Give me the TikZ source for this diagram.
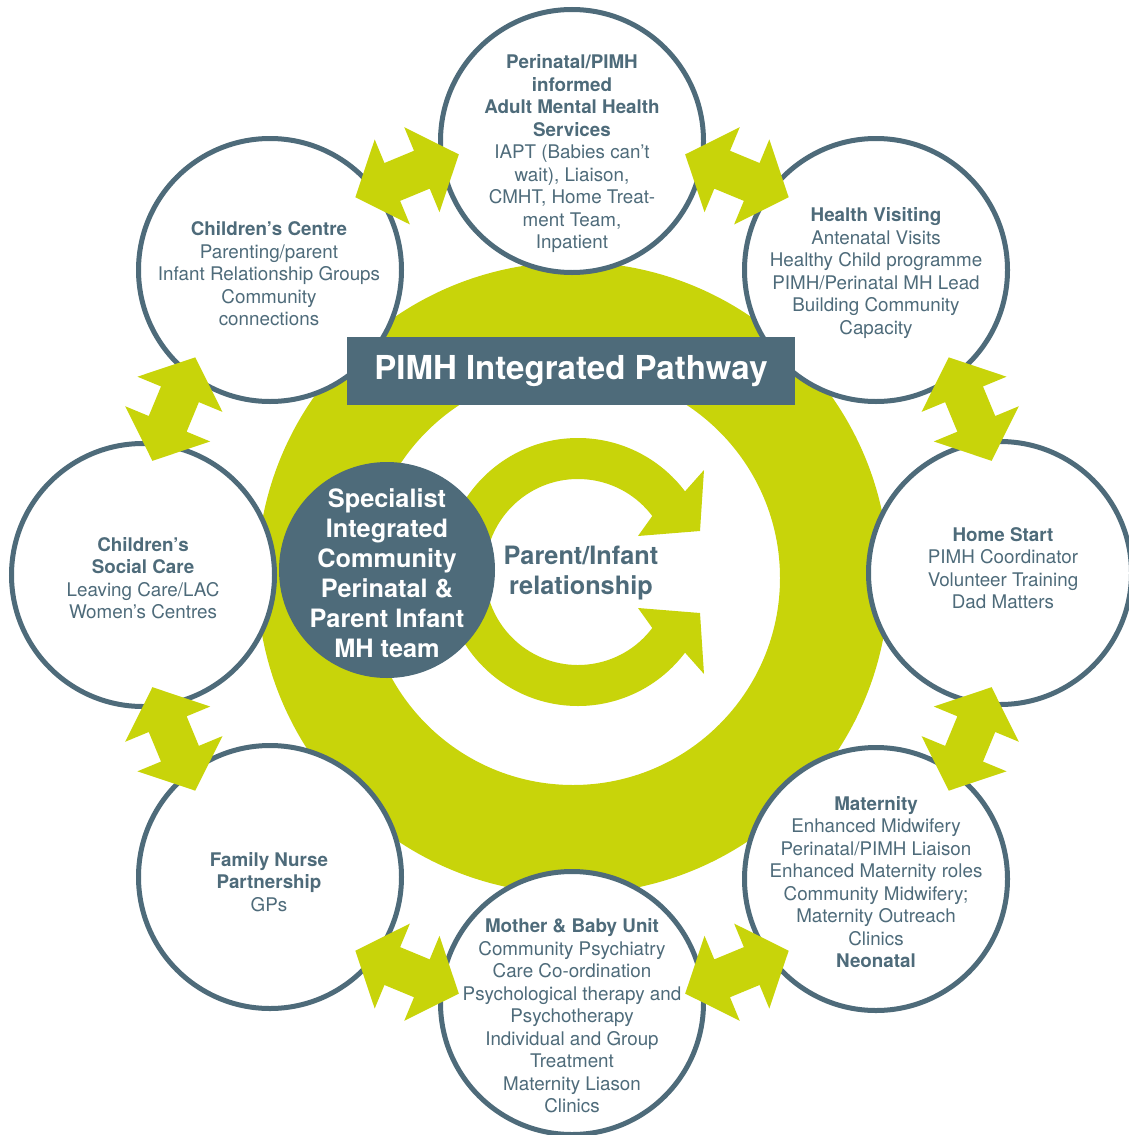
\documentclass[tikz,border=0pt]{standalone}
\usepackage{fontspec}
\setmainfont{TeX Gyre Heros}
\usetikzlibrary{calc}
\definecolor{pgreen}{HTML}{C8D40A}
\definecolor{slate}{HTML}{4E6B7A}
\tikzset{
  svc/.style={circle, draw=slate, line width=5pt, fill=white, minimum size=263pt, inner sep=0pt},
  svctext/.style={align=center, text=slate, inner sep=0pt, font=\fontsize{18.8}{22.5}\selectfont},
  dblarrow/.pic={\fill[pgreen] (-56,0) -- (-16,46) -- (-16,20.5) -- (16,20.5) -- (16,46) -- (56,0) -- (16,-46) -- (16,-20.5) -- (-16,-20.5) -- (-16,-46) -- cycle;}
}
\begin{document}
\begin{tikzpicture}[x=1pt,y=-1pt]
\useasboundingbox (0,0) rectangle (1129,1135);
\clip (0,0) rectangle (1129,1135);
% big ring
\fill[pgreen, even odd rule] (573,578) circle[radius=316] (573,578) circle[radius=207];
% central curved arrows
\begin{scope}[shift={(578,572)}]
  \fill[pgreen] (180:134) arc[start angle=180, end angle=323, radius=134] -- (126,-102) -- (122,-41) -- (60,-36) -- (323:93) arc[start angle=323, end angle=180, radius=93] -- cycle;
  \fill[pgreen] (180:134) arc[start angle=180, end angle=37, radius=134] -- (126,102) -- (122,41) -- (60,36) -- (37:93) arc[start angle=37, end angle=180, radius=93] -- cycle;
\end{scope}
% specialist team
\node[circle, fill=slate, minimum size=216pt, inner sep=0pt] (team) at (387,570) {};
\node[align=center, text=white, inner sep=0pt, font=\bfseries\fontsize{25.3}{30}\selectfont] (teamtext) at (387,573) {Specialist\\Integrated\\Community\\Perinatal \&\\Parent Infant\\MH team};
\node[align=center, text=slate, inner sep=0pt, font=\bfseries\fontsize{25.3}{30}\selectfont] (pir) at (581,573) {Parent/Infant\\relationship};
% service circles
\node[svc] (top) at (572,141) {};
\node[svc] (tr) at (876,270) {};
\node[svc] (r) at (1000,573) {};
\node[svc] (br) at (876,879) {};
\node[svc] (b) at (572,1003) {};
\node[svc] (bl) at (270,877) {};
\node[svc] (l) at (143,575) {};
\node[svc] (tl) at (270,270) {};
\node[svctext] (toptext) at (572,154) {\textbf{Perinatal/PIMH}\\\textbf{informed}\\\textbf{Adult Mental Health}\\\textbf{Services}\\IAPT (Babies can’t\\wait), Liaison,\\CMHT, Home Treat-\\ment Team,\\Inpatient};
\node[svctext] (trtext) at (876,273) {\textbf{Health Visiting}\\Antenatal Visits\\Healthy Child programme\\PIMH/Perinatal MH Lead\\Building Community\\Capacity};
\node[svctext] (rtext) at (1003,568) {\textbf{Home Start}\\PIMH Coordinator\\Volunteer Training\\Dad Matters};
\node[svctext] (brtext) at (876,882) {\textbf{Maternity}\\Enhanced Midwifery\\Perinatal/PIMH Liaison\\Enhanced Maternity roles\\Community Midwifery;\\Maternity Outreach\\Clinics\\\textbf{Neonatal}};
\node[svctext] (btext) at (572,1016) {\textbf{Mother \& Baby Unit}\\Community Psychiatry\\Care Co-ordination\\Psychological therapy and\\Psychotherapy\\Individual and Group\\Treatment\\Maternity Liason\\Clinics};
\node[svctext] (bltext) at (269,882) {\textbf{Family Nurse}\\\textbf{Partnership}\\GPs};
\node[svctext] (ltext) at (143,578) {\textbf{Children’s}\\\textbf{Social Care}\\Leaving Care/LAC\\Women’s Centres};
\node[svctext] (tltext) at (269,274) {\textbf{Children’s Centre}\\Parenting/parent\\Infant Relationship Groups\\Community\\connections};
% title
\node[fill=slate, minimum width=448pt, minimum height=68pt, inner sep=0pt, text=white, font=\bfseries\fontsize{33}{40}\selectfont] (title) at (571,371) {PIMH Integrated Pathway};
% double arrows between circles
\foreach \a in {22.5,67.5,112.5,157.5,202.5,247.5,292.5,337.5}
  \pic[rotate=-\a-90] at ($(572,574)+(\a:431)$) {dblarrow};
\end{tikzpicture}
\end{document}
